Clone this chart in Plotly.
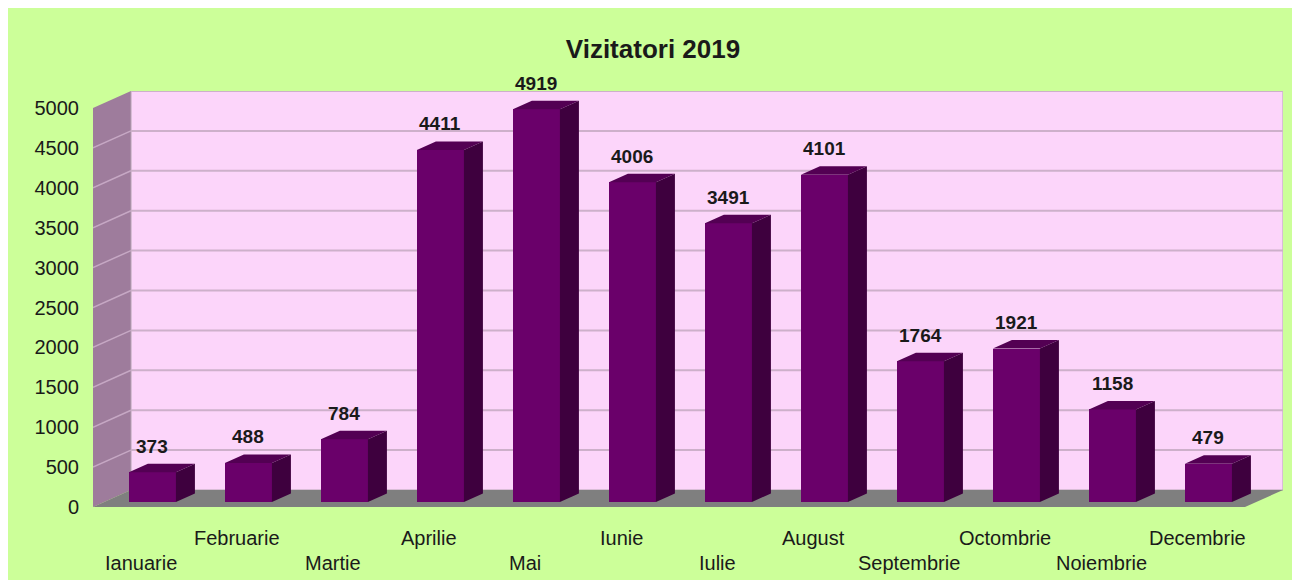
import plotly.graph_objects as go

# ---------------- data ----------------
months = ["Ianuarie", "Februarie", "Martie", "Aprilie", "Mai", "Iunie",
          "Iulie", "August", "Septembrie", "Octombrie", "Noiembrie", "Decembrie"]
visitors = [373, 488, 784, 4411, 4919, 4006, 3491, 4101, 1764, 1921, 1158, 479]
y_ticks = [0, 500, 1000, 1500, 2000, 2500, 3000, 3500, 4000, 4500, 5000]
title_text = "Vizitatori 2019"

# ---------------- geometry / style ----------------
W, H = 1310, 590
ML, MT = 85, 83
plot_w, plot_h = 1190, 416
MR = W - ML - plot_w
MB = H - MT - plot_h
n = len(months)
px_per_cat = 96.0
x_max = plot_w / px_per_cat
y_top = y_ticks[-1]
px_per_unit = 79.8 / 1000.0
y_max = plot_h / px_per_unit
wall_dx = x_max - n          # depth offset of the back wall (x units)
wall_dy = y_max - y_top      # depth offset of the back wall (y units)

bar_w = 0.49
d0, d1 = 0.30, 0.80          # bar depth span (fraction of wall depth)
sx, sy = d0 * wall_dx, d0 * wall_dy
ddx, ddy = (d1 - d0) * wall_dx, (d1 - d0) * wall_dy

GREEN = "#CCFF99"
PINK = "#FCD5FA"
SIDE_WALL = "#9E7C9C"
FLOOR = "#7F7F7F"
GRID_BACK = "#CDB0CA"
GRID_SIDE = "#C6A8C4"
FRONT = "#6A006A"
TOP = "#530053"
SIDE = "#3E003E"
FONT = "Liberation Sans, Arial, sans-serif"

centers = [i + 0.5 for i in range(n)]
front_x = [c + sx for c in centers]

fig = go.Figure()

# front faces of the bars
fig.add_trace(go.Bar(
    x=front_x, y=visitors, base=[sy] * n, width=bar_w,
    marker=dict(color=FRONT, line=dict(width=0)),
    hoverinfo="skip", showlegend=False,
))

# top faces and side faces (computed from the values)
tx, ty, rx, ry = [], [], [], []
for xc, v in zip(front_x, visitors):
    xl, xr = xc - bar_w / 2, xc + bar_w / 2
    yt = v + sy
    tx += [xl, xr, xr + ddx, xl + ddx, xl, None]
    ty += [yt, yt, yt + ddy, yt + ddy, yt, None]
    rx += [xr, xr, xr + ddx, xr + ddx, xr, None]
    ry += [sy, yt, yt + ddy, sy + ddy, sy, None]

fig.add_trace(go.Scatter(x=tx, y=ty, mode="lines", fill="toself", fillcolor=TOP,
                         line=dict(width=0, color=TOP), hoverinfo="skip", showlegend=False))
fig.add_trace(go.Scatter(x=rx, y=ry, mode="lines", fill="toself", fillcolor=SIDE,
                         line=dict(width=0, color=SIDE), hoverinfo="skip", showlegend=False))

# ---------------- walls, floor, gridlines ----------------
shapes = []
shapes.append(dict(type="path", layer="below",
                   path=f"M 0,0 L {wall_dx},{wall_dy} L {wall_dx},{y_top + wall_dy} L 0,{y_top} Z",
                   fillcolor=SIDE_WALL, line=dict(width=0), xref="x", yref="y"))
shapes.append(dict(type="rect", layer="below", x0=wall_dx, x1=x_max, y0=wall_dy, y1=y_max,
                   fillcolor=PINK, line=dict(width=1, color="#B4A4B2"), xref="x", yref="y"))
for v in y_ticks[1:]:
    shapes.append(dict(type="line", layer="below", x0=wall_dx, x1=x_max,
                       y0=v + wall_dy, y1=v + wall_dy,
                       line=dict(width=2, color=GRID_BACK), xref="x", yref="y"))
for v in y_ticks[1:-1]:
    shapes.append(dict(type="line", layer="below", x0=0, x1=wall_dx,
                       y0=v, y1=v + wall_dy,
                       line=dict(width=1.5, color=GRID_SIDE), xref="x", yref="y"))
shapes.append(dict(type="path", layer="below",
                   path=f"M 0,0 L {n},0 L {n + wall_dx},{wall_dy} L {wall_dx},{wall_dy} Z",
                   fillcolor=FLOOR, line=dict(width=0), xref="x", yref="y"))

# ---------------- annotations ----------------
annotations = []
for xc, v in zip(front_x, visitors):
    annotations.append(dict(x=xc, y=v + sy, xref="x", yref="y", text=f"<b>{v}</b>",
                            showarrow=False, yshift=26, yanchor="middle",
                            font=dict(family=FONT, size=19, color="#1A1A1A")))
for i, (c, m) in enumerate(zip(centers, months)):
    annotations.append(dict(x=c, y=0, xref="x", yref="y", text=m, showarrow=False,
                            yanchor="middle", yshift=(-56 if i % 2 == 0 else -31),
                            font=dict(family=FONT, size=20, color="#1A1A1A")))

fig.update_layout(
    width=W, height=H,
    margin=dict(l=ML, r=MR, t=MT, b=MB, pad=0),
    paper_bgcolor=GREEN, plot_bgcolor=GREEN,
    title=dict(text=f"<b>{title_text}</b>", x=645 / W, xref="container",
               xanchor="center", y=1 - 41 / H, yref="container", yanchor="middle",
               font=dict(family=FONT, size=26, color="#1A1A1A")),
    xaxis=dict(range=[0, x_max], showgrid=False, zeroline=False, showticklabels=False,
               showline=False, fixedrange=True),
    yaxis=dict(range=[0, y_max], showgrid=False, zeroline=False, showline=False,
               tickvals=y_ticks, ticktext=[str(t) for t in y_ticks],
               ticks="", ticklabelstandoff=13,
               tickfont=dict(family=FONT, size=20, color="#1A1A1A"), fixedrange=True),
    shapes=shapes, annotations=annotations,
    showlegend=False, bargap=0,
)

fig.write_html("out.html",
               post_script="document.body.style.overflow='hidden';")
